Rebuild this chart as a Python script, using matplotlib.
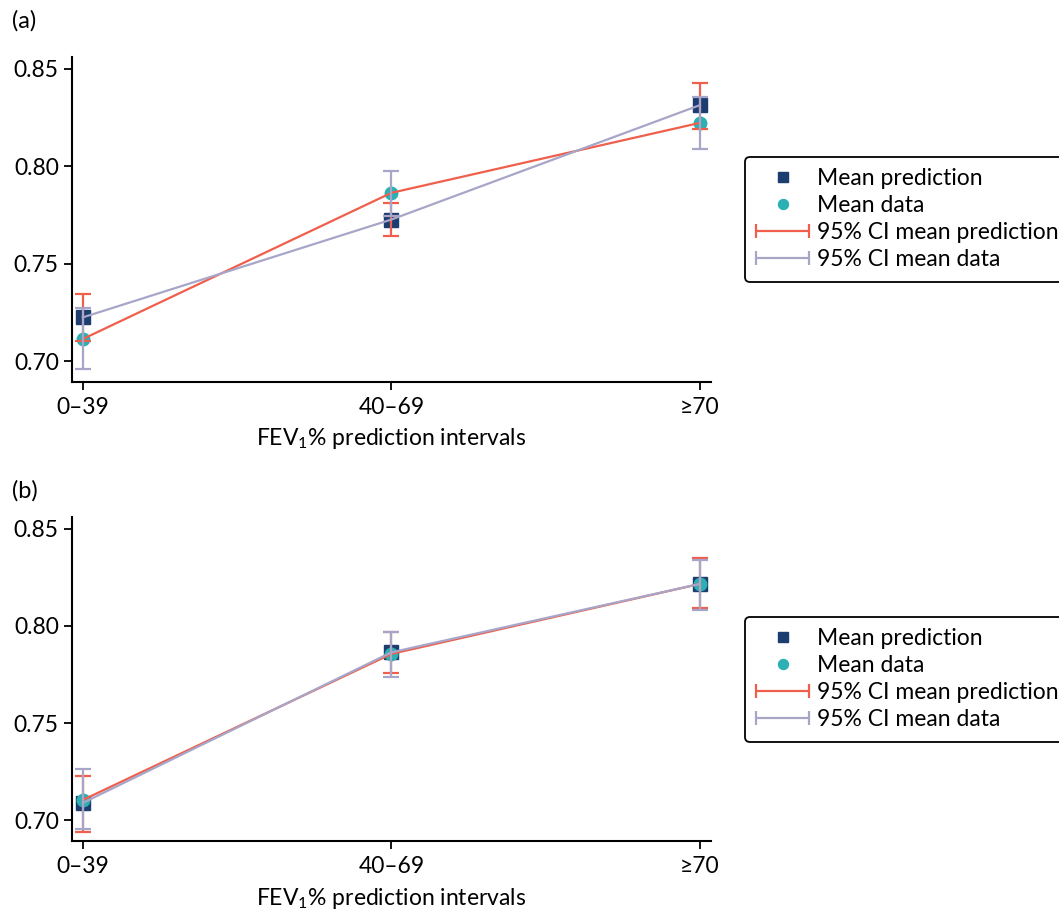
import matplotlib
matplotlib.use("Agg")
import matplotlib.pyplot as plt
from matplotlib.legend_handler import HandlerErrorbar
import numpy as np

plt.rcParams['font.family'] = ['Lato', 'DejaVu Sans']
plt.rcParams['mathtext.fontset'] = 'custom'
plt.rcParams['mathtext.rm'] = 'Lato'
plt.rcParams['mathtext.it'] = 'Lato'

categories = ['0–39', '40–69', '≥70']

# Panel (a)
a_pred_mean = [0.7224, 0.7726, 0.8313]
a_pred_lo = [0.7104, 0.7641, 0.8191]
a_pred_hi = [0.7344, 0.7809, 0.8429]
a_data_mean = [0.7113, 0.7863, 0.8222]
a_data_lo = [0.6957, 0.7745, 0.8086]
a_data_hi = [0.7270, 0.7976, 0.8355]

# Panel (b)
b_pred_mean = [0.7090, 0.7864, 0.8216]
b_pred_lo = [0.6942, 0.7759, 0.8090]
b_pred_hi = [0.7230, 0.7967, 0.8347]
b_data_mean = [0.7105, 0.7856, 0.8216]
b_data_lo = [0.6954, 0.7738, 0.8082]
b_data_hi = [0.7262, 0.7967, 0.8340]

yticks = [0.70, 0.75, 0.80, 0.85]

C_SQ = '#1c3d6f'
C_CI = '#2bb0b4'
C_RED = '#ef5f4c'
C_PUR = '#a8a6c8'

FS = 16.5

fig = plt.figure(figsize=(10.59, 9.11), dpi=100)
W, H = 1059, 911

def make_ax(top_px, bottom_px):
    return fig.add_axes([72 / W, 1 - bottom_px / H, (710.7 - 72) / W, (bottom_px - top_px) / H])

ax_a = make_ax(57, 381.7)
ax_b = make_ax(517, 841)

def draw(ax, pm, plo, phi, dm, dlo, dhi, label_y):
    x = np.arange(len(categories))
    pm, plo, phi = map(np.array, (pm, plo, phi))
    dm, dlo, dhi = map(np.array, (dm, dlo, dhi))
    sq, = ax.plot(x, pm, 's', color=C_SQ, ms=9.5, zorder=2, linestyle='none')
    ci, = ax.plot(x, dm, 'o', color=C_CI, ms=9, zorder=2, linestyle='none')
    # red CI (prediction) and red connecting line
    ax.errorbar(x, pm, yerr=[pm - plo, phi - pm], fmt='none', ecolor=C_RED, elinewidth=1.6,
                capsize=6, capthick=1.6, zorder=3)
    ax.plot(x, dm, '-', color=C_RED, lw=1.6, zorder=3)
    # purple CI (data) and purple connecting line
    ax.errorbar(x, dm, yerr=[dm - dlo, dhi - dm], fmt='none', ecolor=C_PUR, elinewidth=1.6,
                capsize=6, capthick=1.6, zorder=4)
    ax.plot(x, pm, '-', color=C_PUR, lw=1.6, zorder=4)

    ax.set_xlim(-0.035, 2.035)
    ax.set_ylim(0.6894, 0.856)
    ax.set_xticks(x)
    ax.set_xticklabels(categories)
    ax.set_yticks(yticks)
    ax.set_yticklabels([f'{v:.2f}' for v in yticks])
    ax.tick_params(labelsize=FS, width=1.3, length=6, direction='out', colors='black')
    ax.tick_params(axis='x', pad=5)
    for s in ['top', 'right']:
        ax.spines[s].set_visible(False)
    for s in ['left', 'bottom']:
        ax.spines[s].set_linewidth(1.5)
    ax.set_xlabel('FEV$_1$% prediction intervals', fontsize=FS, labelpad=6)

    h_red = ax.errorbar([np.nan], [np.nan], xerr=[1], fmt='none', ecolor=C_RED, elinewidth=1.6,
                        capsize=5, capthick=1.6)
    h_pur = ax.errorbar([np.nan], [np.nan], xerr=[1], fmt='none', ecolor=C_PUR, elinewidth=1.6,
                        capsize=5, capthick=1.6)
    leg = fig.legend(handles=[sq, ci, h_red, h_pur],
                     labels=['Mean prediction', 'Mean data', '95% CI mean prediction', '95% CI mean data'],
                     loc='upper left', bbox_to_anchor=(745 / W, 1 - label_y / H),
                     fontsize=FS, frameon=True, fancybox=True, edgecolor='black',
                     framealpha=1, borderaxespad=0, handlelength=2.3, handletextpad=0.35,
                     labelspacing=0.26, borderpad=0.5, markerscale=0.8,
                     handler_map={type(h_red): HandlerErrorbar(xerr_size=1.15)})
    leg.get_frame().set_linewidth(1.3)
    return leg

draw(ax_a, a_pred_mean, a_pred_lo, a_pred_hi, a_data_mean, a_data_lo, a_data_hi, 157)
draw(ax_b, b_pred_mean, b_pred_lo, b_pred_hi, b_data_mean, b_data_lo, b_data_hi, 617)

fig.text(12 / W, 1 - 21 / H, '(a)', fontsize=17, va='center', ha='left')
fig.text(12 / W, 1 - 491 / H, '(b)', fontsize=17, va='center', ha='left')

fig.savefig('out.png', dpi=100)
